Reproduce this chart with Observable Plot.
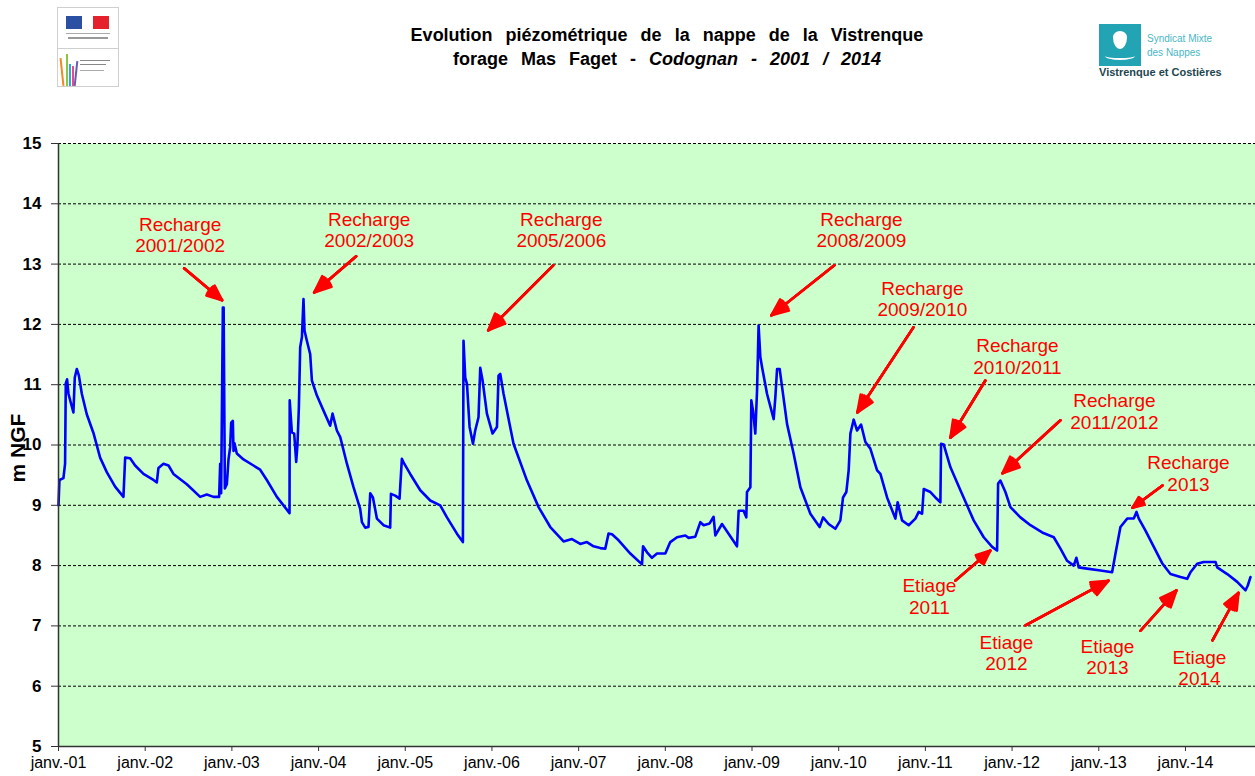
<!DOCTYPE html>
<html>
<head>
<meta charset="utf-8">
<script src="https://cdn.jsdelivr.net/npm/d3@7"></script>
<script src="https://cdn.jsdelivr.net/npm/@observablehq/plot@0.6"></script>
<style>
  html, body { margin: 0; padding: 0; background: #fff; }
  body { width: 1255px; height: 776px; overflow: hidden; font-family: Arial, "Liberation Sans", sans-serif; }
  #header { position: relative; height: 100px; width: 1255px; }
  #title { position: absolute; left: 0; top: 23px; width: 1334px; text-align: center; font-weight: bold; font-size: 18px; line-height: 24px; color: #000; word-spacing: 8px; }
  #title i { font-style: italic; }
  .abs { position: absolute; }
  svg g[aria-label="y-axis tick label"] text { font-weight: bold; }
</style>
</head>
<body>
<div id="header">
  <!-- left logo -->
  <div class="abs" style="left:57px;top:7px;width:60px;height:78px;border:1px solid #cfcfcf;background:#fff;">
    <div class="abs" style="left:8px;top:8px;width:16px;height:13px;background:#2b4fa3;"></div>
    <div class="abs" style="left:35px;top:8px;width:16px;height:13px;background:#e4212d;"></div>
    <div class="abs" style="left:8px;top:25px;width:44px;height:1px;background:#aaa;"></div>
    <div class="abs" style="left:10px;top:29px;width:40px;height:2px;background:#999;"></div>
    <div class="abs" style="left:0px;top:40px;width:60px;height:1px;background:#cfcfcf;"></div>
    <div class="abs" style="left:3px;top:50px;width:2px;height:28px;background:#f08a24;transform:rotate(-6deg);"></div>
    <div class="abs" style="left:8px;top:46px;width:2px;height:32px;background:#8cc63f;"></div>
    <div class="abs" style="left:11px;top:56px;width:2px;height:22px;background:#27aae1;"></div>
    <div class="abs" style="left:14px;top:58px;width:2px;height:20px;background:#ec4a8b;"></div>
    <div class="abs" style="left:17px;top:53px;width:2px;height:25px;background:#6a5bb0;transform:rotate(6deg);"></div>
    <div class="abs" style="left:22px;top:52px;width:30px;height:1px;background:#888;"></div>
    <div class="abs" style="left:22px;top:56px;width:26px;height:1px;background:#888;"></div>
    <div class="abs" style="left:22px;top:62px;width:24px;height:1px;background:#aaa;"></div>
  </div>
  <div id="title">Evolution piézométrique de la nappe de la Vistrenque<br>forage Mas Faget - <i>Codognan - 2001 / 2014</i></div>
  <!-- right logo -->
  <div class="abs" style="left:1099px;top:24px;width:42px;height:42px;background:#22a4b5;">
    <div class="abs" style="left:14px;top:7px;width:14px;height:18px;background:#fff;border-radius:50% 50% 50% 50% / 35% 35% 65% 65%;"></div>
    <div class="abs" style="left:6px;top:28px;width:30px;height:6px;border-bottom:2px solid #fff;border-radius:0 0 50% 50%;"></div>
  </div>
  <div class="abs" style="left:1147px;top:32px;font-size:10px;line-height:14px;color:#4bb6c6;">Syndicat Mixte<br>des Nappes</div>
  <div class="abs" style="left:1099px;top:66px;font-size:11px;font-weight:bold;color:#1d4650;">Vistrenque et Costières</div>
</div>
<div id="chart"></div>
<script>
// Données piézométriques (années décimales, m NGF)
const annees = [
  2001.000, 2001.011, 2001.057, 2001.076, 2001.084, 2001.099, 2001.115, 2001.142, 2001.172, 2001.188, 2001.211, 2001.234, 2001.269, 2001.326, 2001.403, 2001.480, 2001.557, 2001.653, 2001.749, 2001.769, 2001.826, 2001.884, 2001.980,
  2002.095, 2002.134, 2002.153, 2002.211, 2002.269, 2002.326, 2002.480, 2002.634, 2002.711, 2002.788, 2002.853, 2002.865, 2002.876, 2002.896, 2002.905, 2002.919, 2002.942, 2002.961, 2002.980, 2002.992,
  2003.011, 2003.019, 2003.030, 2003.057, 2003.134, 2003.249, 2003.326, 2003.403, 2003.519, 2003.665, 2003.667, 2003.692, 2003.719, 2003.742, 2003.757, 2003.773, 2003.788, 2003.808, 2003.826, 2003.838, 2003.865, 2003.903, 2003.923, 2003.981,
  2004.057, 2004.134, 2004.161, 2004.211, 2004.250, 2004.327, 2004.403, 2004.480, 2004.500, 2004.538, 2004.576, 2004.596, 2004.627, 2004.673, 2004.749, 2004.826, 2004.835, 2004.884, 2004.934, 2004.961, 2004.988,
  2005.057, 2005.173, 2005.288, 2005.403, 2005.481, 2005.596, 2005.665, 2005.672, 2005.692, 2005.712, 2005.742, 2005.781, 2005.807, 2005.845, 2005.865, 2005.892, 2005.942,
  2006.007, 2006.058, 2006.076, 2006.096, 2006.134, 2006.249, 2006.404, 2006.538, 2006.673, 2006.826, 2006.923,
  2007.019, 2007.096, 2007.172, 2007.250, 2007.307, 2007.345, 2007.385, 2007.461, 2007.596, 2007.731, 2007.743, 2007.789, 2007.846, 2007.904,
  2008.000, 2008.057, 2008.135, 2008.231, 2008.269, 2008.346, 2008.404, 2008.442, 2008.511, 2008.557, 2008.577, 2008.654, 2008.827, 2008.846, 2008.903, 2008.934, 2008.942, 2008.981, 2008.992,
  2009.012, 2009.038, 2009.058, 2009.076, 2009.096, 2009.116, 2009.173, 2009.250, 2009.269, 2009.289, 2009.319, 2009.347, 2009.404, 2009.481, 2009.558, 2009.673, 2009.780, 2009.820, 2009.884, 2009.961,
  2010.019, 2010.050, 2010.088, 2010.115, 2010.135, 2010.173, 2010.212, 2010.258, 2010.308, 2010.365, 2010.443, 2010.481, 2010.558, 2010.654, 2010.680, 2010.731, 2010.807, 2010.885, 2010.923, 2010.962, 2010.981,
  2011.058, 2011.115, 2011.173, 2011.181, 2011.211, 2011.289, 2011.404, 2011.557, 2011.673, 2011.770, 2011.827, 2011.839, 2011.865, 2011.923, 2011.981,
  2012.096, 2012.212, 2012.347, 2012.481, 2012.558, 2012.635, 2012.711, 2012.742, 2012.769, 2012.865,
  2013.020, 2013.154, 2013.193, 2013.250, 2013.328, 2013.404, 2013.435, 2013.462, 2013.539, 2013.635, 2013.731, 2013.827, 2013.943,
  2014.020, 2014.058, 2014.135, 2014.211, 2014.347, 2014.366, 2014.482, 2014.597, 2014.693, 2014.719, 2014.750
];
const niveaux = [
  9.00, 9.42, 9.45, 9.69, 11.02, 11.09, 10.85, 10.70, 10.54, 11.12, 11.26, 11.16, 10.85, 10.51, 10.20, 9.79, 9.55, 9.31, 9.14, 9.79, 9.78, 9.66, 9.52,
  9.42, 9.38, 9.62, 9.69, 9.66, 9.52, 9.35, 9.14, 9.18, 9.14, 9.14, 9.69, 9.20, 12.28, 12.28, 9.28, 9.35, 9.76, 9.96, 10.37,
  10.40, 9.90, 10.03, 9.86, 9.76, 9.66, 9.59, 9.42, 9.14, 8.87, 10.74, 10.21, 10.19, 9.72, 10.02, 10.63, 11.62, 11.79, 12.42, 11.90, 11.73, 11.51, 11.07, 10.82,
  10.57, 10.32, 10.52, 10.24, 10.13, 9.69, 9.30, 8.94, 8.72, 8.63, 8.64, 9.20, 9.13, 8.78, 8.67, 8.63, 9.19, 9.16, 9.11, 9.77, 9.69,
  9.52, 9.25, 9.08, 9.00, 8.80, 8.53, 8.39, 11.73, 11.12, 11.01, 10.30, 10.02, 10.24, 10.46, 11.28, 11.07, 10.52,
  10.19, 10.30, 11.15, 11.18, 10.85, 10.02, 9.41, 8.97, 8.64, 8.40, 8.44,
  8.36, 8.39, 8.32, 8.29, 8.28, 8.53, 8.52, 8.42, 8.20, 8.02, 8.32, 8.22, 8.13, 8.20,
  8.20, 8.39, 8.47, 8.50, 8.46, 8.48, 8.72, 8.67, 8.70, 8.81, 8.50, 8.69, 8.32, 8.91, 8.91, 8.80, 9.22, 9.30, 10.74,
  10.57, 10.19, 10.90, 11.98, 11.46, 11.29, 10.85, 10.43, 10.79, 11.26, 11.26, 10.96, 10.35, 9.85, 9.30, 8.86, 8.64, 8.80, 8.69, 8.61,
  8.75, 9.13, 9.22, 9.58, 10.19, 10.42, 10.24, 10.34, 10.05, 9.94, 9.58, 9.52, 9.13, 8.78, 9.05, 8.75, 8.67, 8.78, 8.89, 8.86, 9.27,
  9.22, 9.13, 9.05, 10.02, 10.01, 9.63, 9.25, 8.75, 8.47, 8.31, 8.25, 9.36, 9.41, 9.22, 8.97,
  8.80, 8.67, 8.55, 8.47, 8.28, 8.08, 8.00, 8.13, 7.97, 7.95,
  7.92, 7.89, 8.20, 8.64, 8.78, 8.78, 8.89, 8.78, 8.58, 8.31, 8.04, 7.86, 7.81,
  7.78, 7.89, 8.03, 8.06, 8.06, 7.97, 7.86, 7.73, 7.59, 7.67, 7.81
];

// Axes
const ticksAnnees = [2001, 2002, 2003, 2004, 2005, 2006, 2007, 2008, 2009, 2010, 2011, 2012, 2013, 2014];
const ticksNiveaux = [5, 6, 7, 8, 9, 10, 11, 12, 13, 14, 15];
const domaineX = [2001, 2014.808];
const domaineY = [5, 15];

// Annotations (textes)
const annotTextes = ["Recharge\n2001/2002", "Recharge\n2002/2003", "Recharge\n2005/2006", "Recharge\n2008/2009",
  "Recharge\n2009/2010", "Recharge\n2010/2011", "Recharge\n2011/2012", "Recharge\n2013",
  "Etiage\n2011", "Etiage\n2012", "Etiage\n2013", "Etiage\n2014"];
const annotX = [2002.403, 2004.584, 2006.800, 2010.262, 2010.965, 2012.062, 2013.181, 2014.035, 2011.046, 2011.935, 2013.100, 2014.162];
const annotY = [13.49, 13.57, 13.57, 13.57, 12.43, 11.47, 10.56, 9.53, 7.49, 6.56, 6.49, 6.31];

// Flèches
const flecheX1 = [2002.449, 2004.434, 2006.707, 2009.950, 2010.862, 2011.692, 2012.558, 2013.735, 2011.346, 2012.154, 2013.481, 2014.312];
const flecheY1 = [12.93, 13.13, 12.98, 12.98, 11.95, 11.07, 10.41, 9.33, 7.75, 7.01, 6.92, 6.76];
const flecheX2 = [2002.888, 2003.949, 2005.957, 2009.223, 2010.215, 2011.288, 2011.889, 2013.389, 2011.750, 2013.112, 2013.897, 2014.612];
const flecheY2 = [12.40, 12.53, 11.90, 12.15, 10.54, 10.12, 9.53, 8.96, 8.25, 7.75, 7.59, 7.55];

const serie = annees.map((a, i) => ({annee: a, niveau: niveaux[i]}));
const annots = annotTextes.map((t, i) => ({texte: t, x: annotX[i], y: annotY[i]}));
const fleches = flecheX1.map((x1, i) => ({x1, y1: flecheY1[i], x2: flecheX2[i], y2: flecheY2[i]}));

const fmtAnnee = d => "janv.-" + String(d % 100).padStart(2, "0");

// stacked arrow heads give a filled-looking triangle
const flecheMarks = [46, 34, 22, 10].map(angle =>
  Plot.arrow(fleches, {x1: "x1", y1: "y1", x2: "x2", y2: "y2", stroke: "#FF0000", strokeWidth: 2.5, headLength: 11, headAngle: angle})
);

const chart = Plot.plot({
  width: 1255,
  height: 676,
  marginLeft: 58,
  marginRight: 0,
  marginTop: 43,
  marginBottom: 30,
  style: {fontFamily: "Arial, 'Liberation Sans', sans-serif", background: "#fff", overflow: "visible"},
  x: {type: "linear", domain: domaineX, label: null},
  y: {domain: domaineY, label: null},
  marks: [
    Plot.frame({fill: "#CCFFCC", stroke: "none"}),
    Plot.gridY(ticksNiveaux.filter(d => d > 5), {stroke: "#000", strokeOpacity: 1, strokeWidth: 1, strokeDasharray: "3,2"}),
    Plot.line(serie, {x: "annee", y: "niveau", stroke: "#0000FF", strokeWidth: 2.6, strokeLinejoin: "round"}),
    Plot.ruleX([domaineX[0]], {stroke: "#333", strokeWidth: 1.5}),
    Plot.ruleY([domaineY[0]], {stroke: "#333", strokeWidth: 1.5}),
    Plot.axisY({ticks: ticksNiveaux, tickSize: 7, tickPadding: 10, fontSize: 17, fontWeight: "bold", fill: "#000", stroke: "#333", label: null}),
    Plot.axisX({ticks: ticksAnnees, tickFormat: fmtAnnee, tickSize: 5, tickPadding: 5, fontSize: 16, fill: "#000", stroke: "#333", label: null}),
    Plot.text(["m NGF"], {frameAnchor: "left", textAnchor: "middle", dx: -40, dy: 3, rotate: -90, fontSize: 21, fontWeight: "bold", fill: "#000", text: d => d}),
    ...flecheMarks,
    Plot.text(annots, {x: "x", y: "y", text: "texte", fill: "#FF0000", fontSize: 19, lineHeight: 1.13, lineAnchor: "middle", textAnchor: "middle"})
  ]
});
document.getElementById("chart").appendChild(chart);
</script>
</body>
</html>
